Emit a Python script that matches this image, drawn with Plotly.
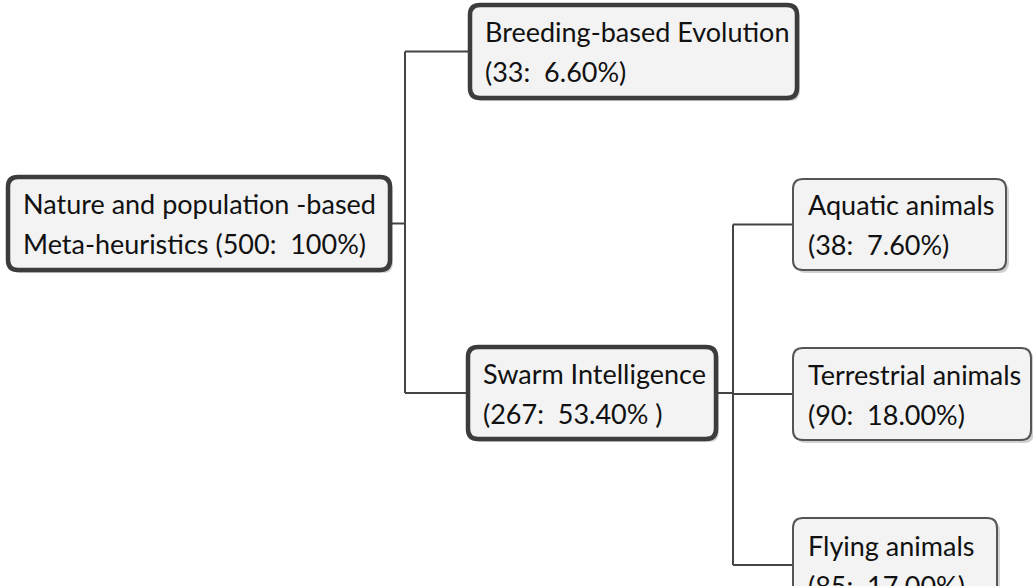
import plotly.graph_objects as go

# ---- data ----
node_titles = ["Nature and population -based", "Breeding-based Evolution", "Swarm Intelligence",
               "Aquatic animals", "Terrestrial animals", "Flying animals"]
node_stats = ["Meta-heuristics (500:  100%)", "(33:  6.60%)", "(267:  53.40% )",
              "(38:  7.60%)", "(90:  18.00%)", "(85:  17.00%)"]
parents = [None, 0, 0, 2, 2, 2]

# ---- layout (pixel space) ----
W, H = 1033, 586
boxes = [  # x0, y0, x1, y1, border width
    (8, 177, 390, 270, 4.5),
    (470, 5, 797, 98, 4.5),
    (468, 347, 716, 439, 4.5),
    (793, 179, 1006, 270, 2),
    (793, 348, 1031, 440, 2),
    (793, 518, 997, 610, 2),
]
branch_x = {0: 405, 2: 733}

fig = go.Figure()
fig.add_trace(go.Scatter(x=[0, W], y=[0, H], mode="markers", marker=dict(opacity=0),
                         hoverinfo="skip", showlegend=False))


def rrect(x0, y0, x1, y1, r=10):
    return (f"M {x0+r},{y0} L {x1-r},{y0} Q {x1},{y0} {x1},{y0+r} L {x1},{y1-r} "
            f"Q {x1},{y1} {x1-r},{y1} L {x0+r},{y1} Q {x0},{y1} {x0},{y1-r} "
            f"L {x0},{y0+r} Q {x0},{y0} {x0+r},{y0} Z")

line_col = "#444444"
shapes = []
# connectors
for p, bx in branch_x.items():
    kids = [i for i, q in enumerate(parents) if q == p]
    px1 = boxes[p][2]
    pcy = (boxes[p][1] + boxes[p][3]) / 2
    kys = [(boxes[k][1] + boxes[k][3]) / 2 if k != 5 else 565 for k in kids]
    shapes.append(dict(type="line", x0=px1, x1=bx, y0=pcy, y1=pcy, line=dict(color=line_col, width=2)))
    shapes.append(dict(type="line", x0=bx, x1=bx, y0=min(kys), y1=max(kys), line=dict(color=line_col, width=2)))
    for k, ky in zip(kids, kys):
        shapes.append(dict(type="line", x0=bx, x1=boxes[k][0], y0=ky, y1=ky, line=dict(color=line_col, width=2)))

annotations = []
for i, (x0, y0, x1, y1, bw) in enumerate(boxes):
    shapes.append(dict(type="path", path=rrect(x0 + 3, y0 + 3, x1 + 3, y1 + 3), fillcolor="rgba(0,0,0,0.18)",
                       line=dict(width=0)))
    shapes.append(dict(type="path", path=rrect(x0, y0, x1, y1), fillcolor="#f3f3f3",
                       line=dict(color="#3c3c3c" if bw > 3 else "#555555", width=bw)))
    cy = (y0 + y1) / 2 if i != 5 else 565
    for txt, dy in ((node_titles[i], -20), (node_stats[i], 20)):
        annotations.append(dict(x=x0 + 13, y=cy + dy, text=txt, showarrow=False, xanchor="left", yanchor="middle",
                                font=dict(family="Lato", size=27, color="#111111")))

fig.update_layout(
    width=W, height=H, margin=dict(l=0, r=0, t=0, b=0),
    paper_bgcolor="white", plot_bgcolor="white",
    xaxis=dict(range=[0, W], visible=False, fixedrange=True),
    yaxis=dict(range=[H, 0], visible=False, fixedrange=True),
    shapes=shapes, annotations=annotations, showlegend=False,
)
fig.write_html("out.html", config={"displayModeBar": False, "staticPlot": True},
               post_script="document.body.style.margin='0px';document.body.style.overflow='hidden';")
